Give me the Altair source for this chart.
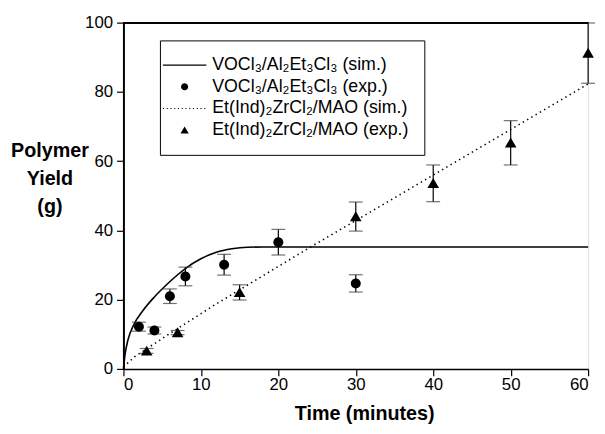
import altair as alt
import pandas as pd

# ---- data ----
vo_t = [2, 4, 6, 8, 13, 20, 30]
vo_y = [12.2, 11.1, 21.0, 26.7, 30.1, 36.6, 24.7]
vo_err = [1.3, 1.0, 2.1, 2.7, 3.0, 3.7, 2.5]

zr_t = [3, 7, 15, 30, 40, 50, 60]
zr_y = [5.2, 10.5, 22.1, 44.0, 53.6, 65.3, 91.2]
zr_err = [0.7, 0.6, 2.2, 4.2, 5.3, 6.4, 8.7]

vo_sim_t = [0, 0.2, 0.6, 1.3, 2.5, 4, 5.7, 7, 8, 10, 12, 14, 16, 18, 30, 45, 60]
vo_sim_y = [0, 4.0, 8.5, 12.6, 16.8, 20.8, 24.6, 27.2, 29.0, 31.8, 33.7, 34.7, 35.15, 35.2, 35.2, 35.2, 35.2]

zr_sim_t = [0, 1.5, 5.7, 12, 24, 35, 60]
zr_sim_y = [0.6, 3.6, 9.8, 18.8, 35.0, 49.4, 82.3]

labels = [
    "VOCl₃/Al₂Et₃Cl₃ (sim.)",
    "VOCl₃/Al₂Et₃Cl₃ (exp.)",
    "Et(Ind)₂ZrCl₂/MAO (sim.)",
    "Et(Ind)₂ZrCl₂/MAO (exp.)",
]

# ---- symbol paths (legend + data), unit = half of sqrt(size) ----
line_path = "M-5.5,-0.16H5.5V0.16H-5.5Z"
dot_path = "".join("M%.2f,-0.14h0.28v0.28h-0.28Z" % (-5.5 + 0.95 * i) for i in range(12))
circle_path = "M0.9,0A0.9,0.9,0,1,1,-0.9,0A0.9,0.9,0,1,1,0.9,0Z"
tri_path = "M0,-0.95L1.05,0.85L-1.05,0.85Z"

pts = pd.DataFrame({
    "t": vo_t + zr_t,
    "y": vo_y + zr_y,
    "lo": [a - b for a, b in zip(vo_y, vo_err)] + [a - b for a, b in zip(zr_y, zr_err)],
    "hi": [a + b for a, b in zip(vo_y, vo_err)] + [a + b for a, b in zip(zr_y, zr_err)],
    "series": [labels[1]] * len(vo_t) + [labels[3]] * len(zr_t),
})
vo_sim = pd.DataFrame({"t": vo_sim_t, "y": vo_sim_y})
zr_sim = pd.DataFrame({"t": zr_sim_t, "y": zr_sim_y})

FONT = "Liberation Sans"

xscale = alt.Scale(domain=[0, 60], nice=False, zero=False)
yscale = alt.Scale(domain=[0, 100], nice=False)

x_axis = alt.Axis(
    values=list(range(0, 61, 5)),
    labelExpr="datum.value % 10 === 0 ? datum.label : ''",
    tickSize={"condition": {"test": "datum.value % 10 === 0", "value": 7}, "value": 4},
    grid=False, domainWidth=1.5, domainColor="black", tickColor="black", tickWidth=1.2,
    labelFont=FONT, labelFontSize=17, labelColor="black", labelPadding=1,
    title="Time (minutes)", titleFont=FONT, titleFontSize=20, titleFontWeight="bold",
    titleColor="black", titleX=244, titleY=51, titleBaseline="alphabetic", titleAlign="center",
)
y_axis = alt.Axis(
    values=list(range(0, 101, 10)),
    labelExpr="datum.value % 20 === 0 ? datum.label : ''",
    tickSize={"condition": {"test": "datum.value % 20 === 0", "value": 7}, "value": 4},
    grid=False, domainWidth=2, domainColor="black", tickColor="black", tickWidth=1.2,
    labelFont=FONT, labelFontSize=17, labelColor="black", labelPadding=4,
    title=["Polymer", "Yield", "(g)"], titleFont=FONT, titleFontSize=20, titleFontWeight="bold",
    titleColor="black", titleAngle=0, titleX=-75, titleY=120, titleAlign="center",
    titleBaseline="top", titleLineHeight=28,
)

base_x = alt.X("t:Q", scale=xscale, axis=x_axis)
base_y = alt.Y("y:Q", scale=yscale, axis=y_axis)

vo_line = alt.Chart(vo_sim).mark_line(color="black", strokeWidth=1.6, interpolate="monotone").encode(
    x=base_x, y=base_y
)
zr_line = alt.Chart(zr_sim).mark_line(color="black", strokeWidth=1.6, strokeDash=[1.4, 3.6]).encode(
    x="t:Q", y="y:Q"
)

err_rule = alt.Chart(pts).mark_rule(color="black", strokeWidth=1.2).encode(
    x="t:Q", y="lo:Q", y2="hi:Q"
)
cap_lo = alt.Chart(pts).mark_tick(color="#333", orient="horizontal", size=14, thickness=1.2).encode(
    x="t:Q", y="lo:Q"
)
cap_hi = alt.Chart(pts).mark_tick(color="#333", orient="horizontal", size=14, thickness=1.2).encode(
    x="t:Q", y="hi:Q"
)

points = alt.Chart(pts).mark_point(filled=True, size=125, opacity=1, color="black").encode(
    x="t:Q",
    y="y:Q",
    shape=alt.Shape(
        "series:N",
        scale=alt.Scale(domain=labels, range=[line_path, circle_path, dot_path, tri_path]),
        legend=alt.Legend(
            title=None, orient="none", legendX=37, legendY=18,
            strokeColor="black", fillColor="white", padding=16,
            symbolSize=64, symbolOffset=0, labelOffset=19,
            symbolFillColor="black", symbolStrokeColor="black", symbolStrokeWidth=0,
            symbolOpacity=1,
            labelFont=FONT, labelFontSize=18, labelColor="black", rowPadding=4,
            labelLimit=400,
        ),
    ),
)

top_rule = alt.Chart(pts).mark_rule(color="black", strokeWidth=1.2).encode(y=alt.datum(100))

chart = alt.layer(vo_line, zr_line, err_rule, cap_lo, cap_hi, points, top_rule).properties(
    width=471, height=351,
    padding={"left": 117, "top": 12, "right": 9, "bottom": 55},
    autosize=alt.AutoSizeParams(type="none"),
).configure_view(stroke=None).configure(background="white")

chart.save("out.html", embed_options={"renderer": "svg", "actions": False})
